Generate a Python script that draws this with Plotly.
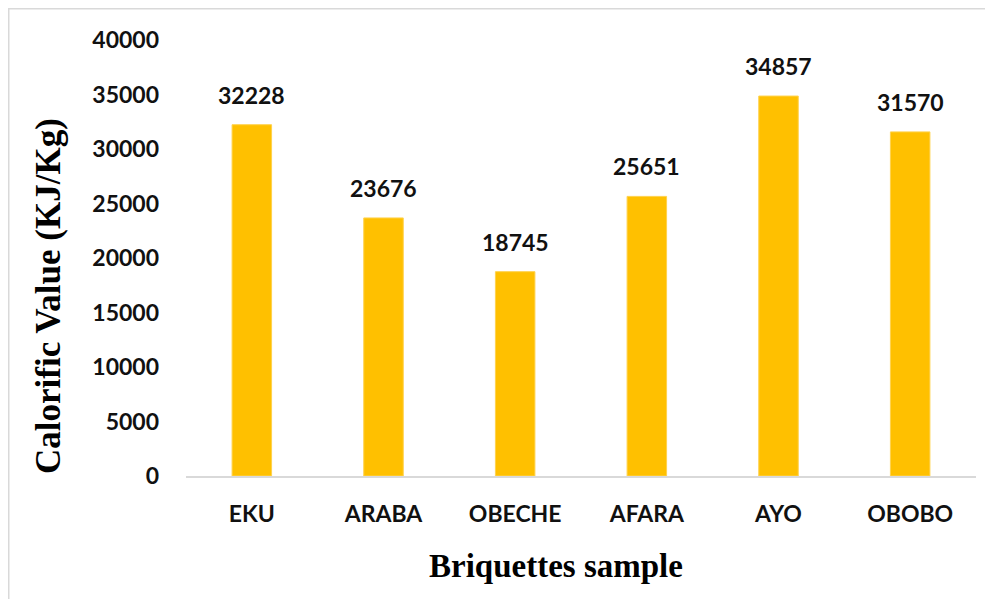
import plotly.graph_objects as go

categories = ["EKU", "ARABA", "OBECHE", "AFARA", "AYO", "OBOBO"]
values = [32228, 23676, 18745, 25651, 34857, 31570]
y_ticks = [0, 5000, 10000, 15000, 20000, 25000, 30000, 35000, 40000]

# page is offset by the 8px body margin
OFF = 8
W, H = 993 - OFF, 599 - OFF
PL, PR, PT, PB = 186, 976, 40, 476  # plot area in page pixels
L, T = PL - OFF, PT - OFF
R = W - (PR - OFF)
B = H - (PB - OFF)
pw, ph = PR - PL, PB - PT

def px_x(p):
    return (p - PL) / pw

def px_y(p):
    return (PB - p) / ph

fig = go.Figure()
fig.add_trace(go.Bar(
    x=categories, y=values, width=0.3,
    marker=dict(color="#FFC000", line=dict(color="#FFD24D", width=1)),
    hoverinfo="x+y",
))

for c, v in zip(categories, values):
    fig.add_annotation(x=c, y=v, text=str(v), showarrow=False,
                       yanchor="bottom", yshift=14,
                       font=dict(family="Lato", size=23, color="#111111", weight="bold"))

fig.add_shape(type="rect", xref="paper", yref="paper",
              x0=px_x(8.5), x1=px_x(1010), y0=px_y(620), y1=px_y(8.5),
              line=dict(color="#d9d9d9", width=2), fillcolor="rgba(0,0,0,0)", layer="below")

fig.add_annotation(xref="paper", yref="paper", x=px_x(556), y=px_y(566),
                   text="Briquettes sample", showarrow=False,
                   xanchor="center", yanchor="middle",
                   font=dict(family="Liberation Serif", size=33, color="#000000", weight="bold"))
fig.add_annotation(xref="paper", yref="paper", x=px_x(48), y=px_y(296),
                   text="Calorific Value (KJ/Kg)", showarrow=False, textangle=-90,
                   xanchor="center", yanchor="middle",
                   font=dict(family="Liberation Serif", size=35, color="#000000", weight="bold"))

fig.update_layout(
    width=W, height=H,
    margin=dict(l=L, r=R, t=T, b=B),
    paper_bgcolor="white", plot_bgcolor="white",
    showlegend=False,
    xaxis=dict(
        showline=True, linecolor="#d9d9d9", linewidth=2,
        ticks="", showgrid=False, ticklabelstandoff=16,
        tickfont=dict(family="Lato", size=23, color="#111111", weight="bold"),
    ),
    yaxis=dict(
        range=[0, 40000], tickvals=y_ticks, ticktext=[str(t) for t in y_ticks],
        showline=False, showgrid=False, zeroline=False, ticks="",
        ticklabelstandoff=26,
        tickfont=dict(family="Lato", size=23, color="#111111", weight="bold"),
    ),
)

fig.write_html("out.html")
